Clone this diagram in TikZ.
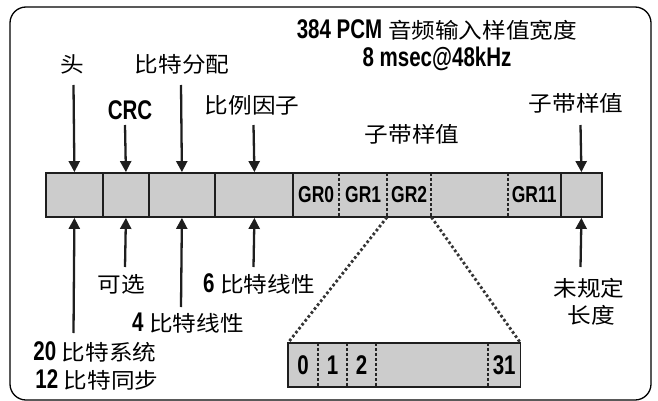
\documentclass[tikz,border=0pt]{standalone}
\usepackage{fontspec}
\newfontfamily\latf[FakeStretch=0.76]{Liberation Sans}
\newfontfamily\cjkf[FakeStretch=1.1]{Noto Sans CJK SC}
\usetikzlibrary{arrows.meta}
\newcommand\lt[1]{{\latf\bfseries\fontsize{27}{30}\selectfont #1}}
\newcommand\cj[1]{{\cjkf\mdseries\fontsize{21.5}{26}\selectfont #1}}
\definecolor{barfill}{HTML}{CCCCCC}
\definecolor{linec}{HTML}{1E1E1E}
\begin{document}
\begin{tikzpicture}[x=1pt,y=-1pt,
  lab/.style={inner sep=0pt, align=center},
  arr/.style={line width=2.3pt, draw=linec, -{Triangle[length=11pt,width=11pt]}},
  seg/.style={draw=linec, line width=1.8pt, fill=barfill, minimum height=44pt, inner sep=0pt, anchor=west},
  gseg/.style={fill=barfill, minimum height=44pt, inner sep=0pt, anchor=west, font=\latf\bfseries\fontsize{23}{24}\selectfont},
  bseg/.style={fill=barfill, minimum height=44pt, inner sep=0pt, anchor=west, font=\latf\bfseries\fontsize{27}{28}\selectfont},
  dv/.style={draw=gray!30!black, line width=1.4pt, dash pattern=on 3pt off 2pt},
  outl/.style={draw=linec, line width=1.8pt},
  zoomline/.style={line width=2.8pt, draw=linec!90, dash pattern=on 2.6pt off 2.4pt}
]
\useasboundingbox (0,0) rectangle (658,401);
% frame
\draw[line width=1.3pt, rounded corners=16pt] (10,7) rectangle (651,400);

% main bar
\node[seg, minimum width=57pt] (s1) at (45,195) {};
\node[seg, minimum width=46pt] (s2) at (102,195) {};
\node[seg, minimum width=66pt] (s3) at (148,195) {};
\node[seg, minimum width=79pt] (s4) at (214,195) {};
\node[gseg, minimum width=46pt] (g0) at (293,195) {GR0};
\node[gseg, minimum width=48pt] (g1) at (339,195) {GR1};
\node[gseg, minimum width=44pt] (g2) at (387,195) {GR2};
\node[gseg, minimum width=77pt] (gx) at (431,195) {};
\node[gseg, minimum width=52pt] (g11) at (508,195) {GR11};
\node[seg, minimum width=41pt] (s5) at (560,195) {};
\foreach \n in {g1,g2,gx,g11} \draw[dv] (\n.north west) -- (\n.south west);
\draw[outl] (g0.north west) rectangle (g11.south east);

% small bar
\node[bseg, minimum width=30pt] (b0) at (288,365) {0};
\node[bseg, minimum width=29pt] (b1) at (318,365) {1};
\node[bseg, minimum width=29pt] (b2) at (347,365) {2};
\node[bseg, minimum width=112pt] (bx) at (376,365) {};
\node[bseg, minimum width=32pt] (b31) at (488,365) {31};
\foreach \n in {b1,b2,bx,b31} \draw[dv] (\n.north west) -- (\n.south west);
\draw[outl] (b0.north west) rectangle (b31.south east);

% zoom lines
\draw[zoomline] (g2.south west) -- (b0.north west);
\draw[zoomline] (g2.south east) -- (b31.north east);

% labels
\node[lab] (t1) at (437,30) {\lt{384 PCM }\cj{音频输入样值宽度}};
\node[lab] (t2) at (437,59) {\lt{8 msec@48kHz}};
\node[lab] (lhead) at (72,64) {\cj{头}};
\node[lab] (lbit) at (182,64) {\cj{比特分配}};
\node[lab] (lcrc) at (130,110) {\lt{CRC}};
\node[lab] (lsf) at (252,105) {\cj{比例因子}};
\node[lab] (lsbr) at (576,103) {\cj{子带样值}};
\node[lab] (lsbm) at (412,134) {\cj{子带样值}};
\node[lab] (lopt) at (121,284) {\cj{可选}};
\node[lab] (l6) at (259,284) {\lt{6 }\cj{比特线性}};
\node[lab] (l4) at (188,323) {\lt{4 }\cj{比特线性}};
\node[lab] (l20) at (95,352) {\lt{20 }\cj{比特系统}};
\node[lab] (l12) at (97,380) {\lt{12 }\cj{比特同步}};
\node[lab] (lund) at (589,288) {\cj{未规定}};
\node[lab] (llen) at (591,315) {\cj{长度}};

% top arrows
\coordinate (a1) at (73.5,85);
\coordinate (a2) at (125,125);
\coordinate (a3) at (181,85);
\coordinate (a4) at (253.5,125);
\coordinate (a5) at (580.5,125);
\draw[arr] (a1) -- (s1.north);
\draw[arr] (a2) -- (s2.north);
\draw[arr] (a3) -- (s3.north);
\draw[arr] (a4) -- (s4.north);
\draw[arr] (a5) -- (s5.north);
% bottom arrows
\coordinate (b1t) at (73.5,333);
\coordinate (b2t) at (125,267);
\coordinate (b3t) at (181,307);
\coordinate (b4t) at (253.5,267);
\coordinate (b5t) at (580.5,267);
\draw[arr] (b1t) -- (s1.south);
\draw[arr] (b2t) -- (s2.south);
\draw[arr] (b3t) -- (s3.south);
\draw[arr] (b4t) -- (s4.south);
\draw[arr] (b5t) -- (s5.south);
\end{tikzpicture}
\end{document}
